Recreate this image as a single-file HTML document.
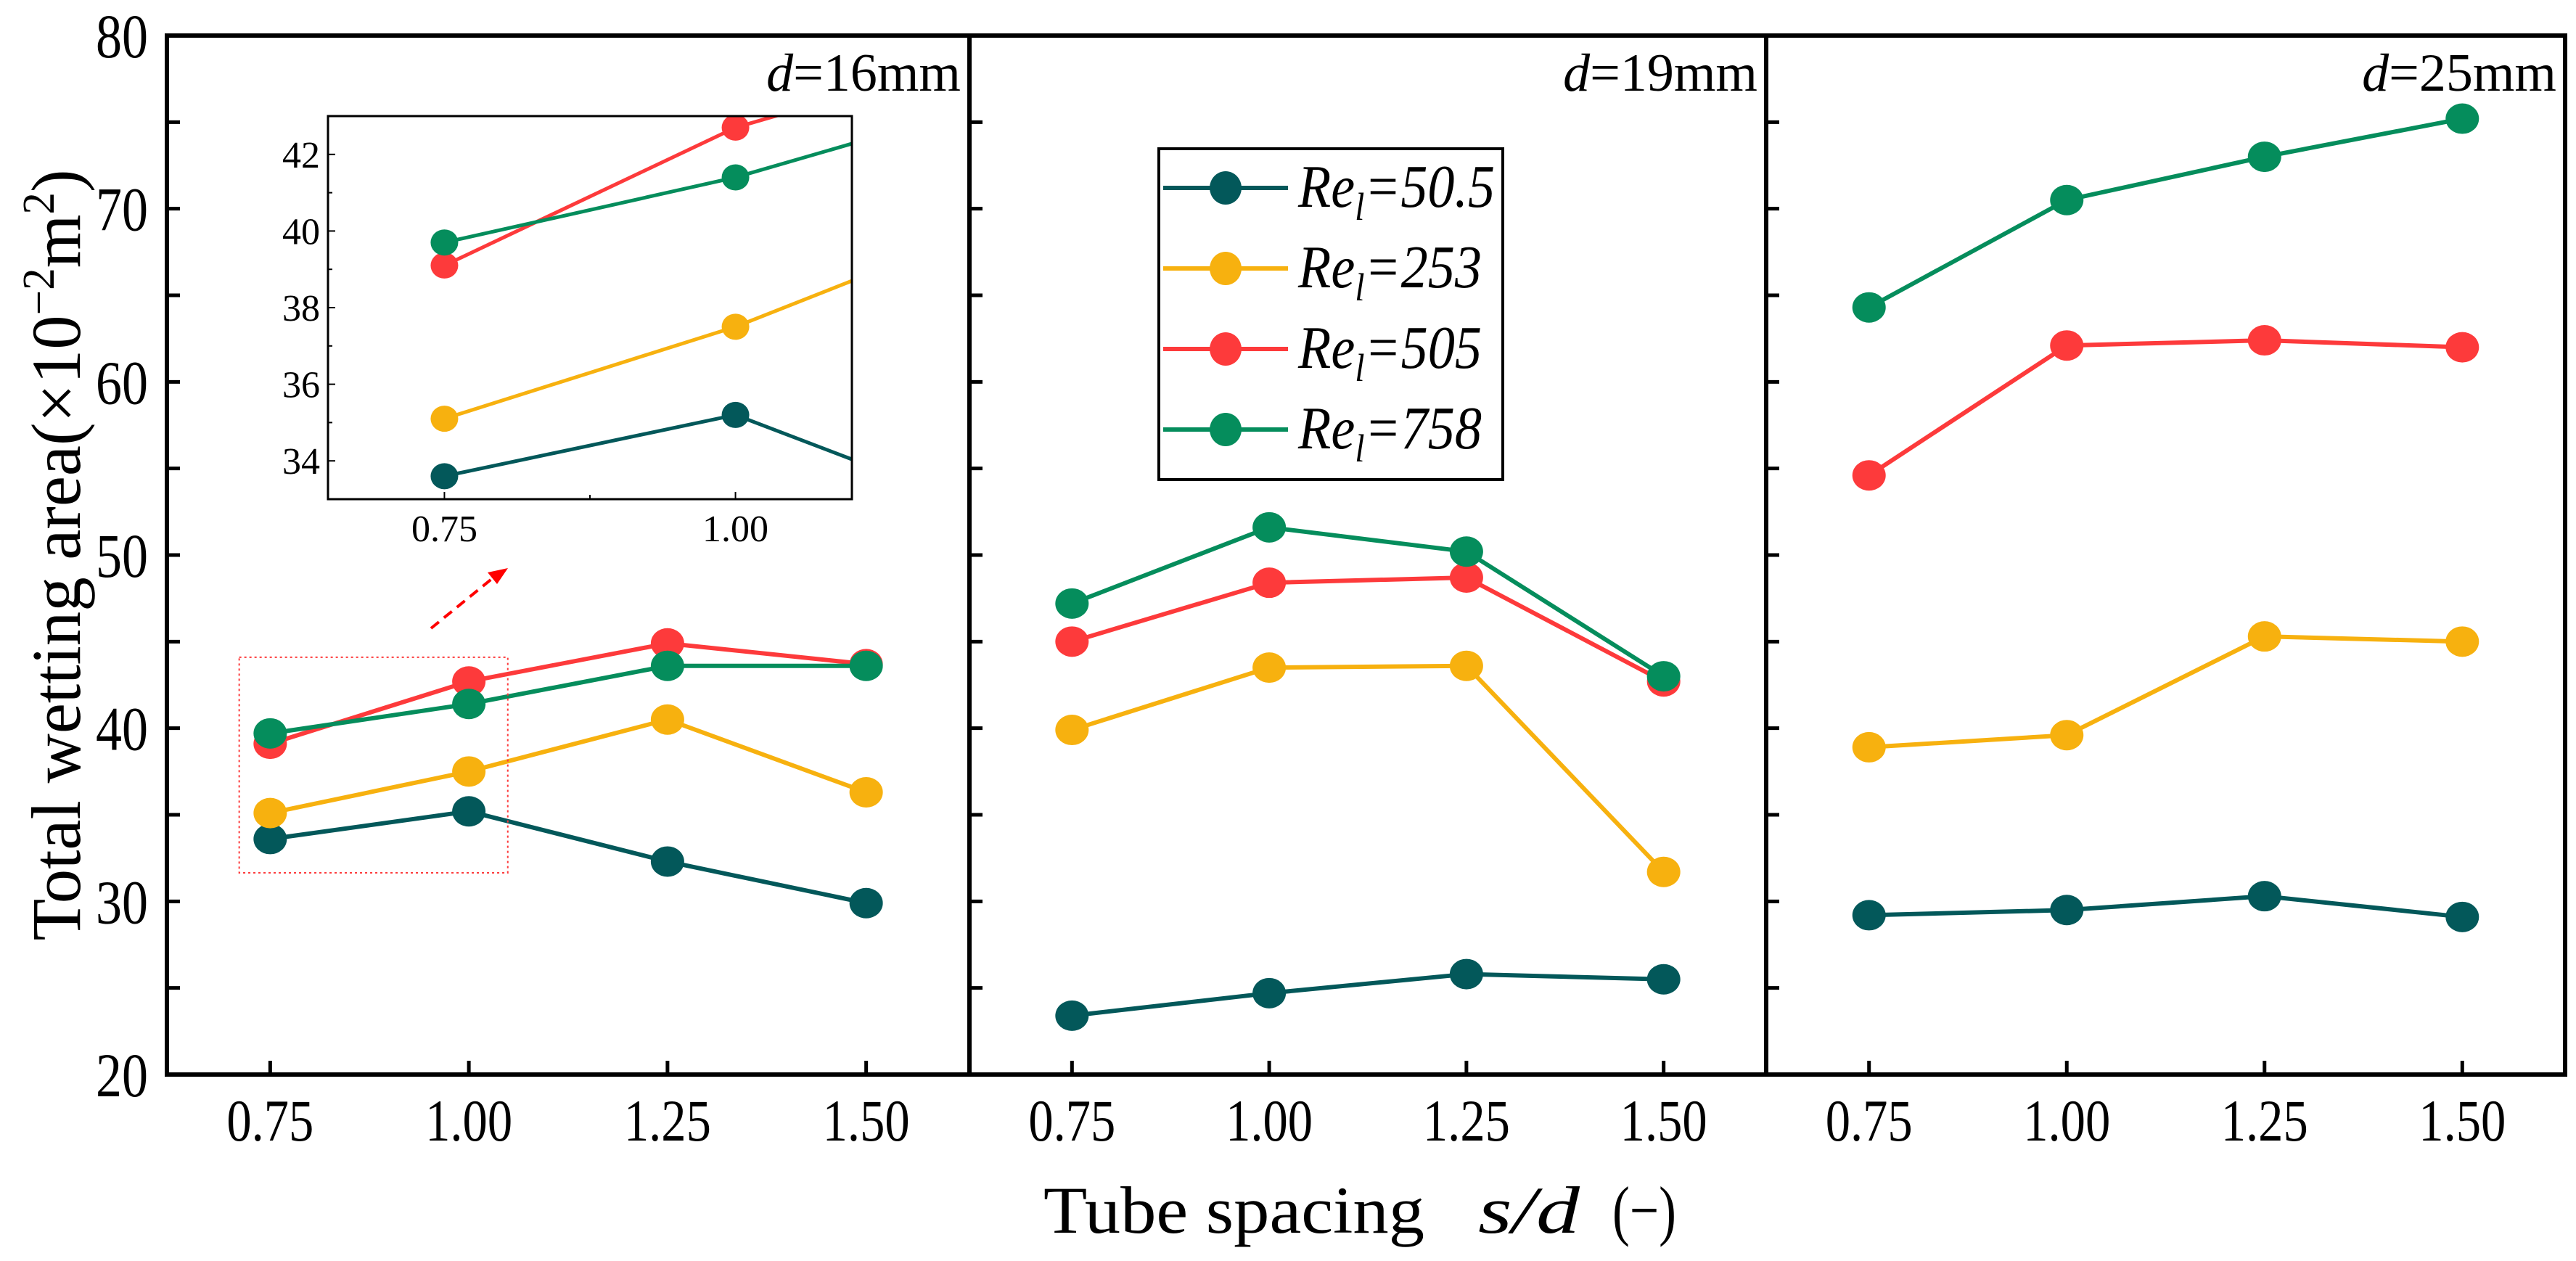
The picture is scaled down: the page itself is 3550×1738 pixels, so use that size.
<!DOCTYPE html>
<html><head><meta charset="utf-8"><style>
html,body{margin:0;padding:0;background:#fff}
svg{display:block}
text{font-family:"Liberation Serif",serif;fill:#000}
</style></head><body>
<svg id="chart" width="3550" height="1738" viewBox="0 0 3550 1738" xmlns="http://www.w3.org/2000/svg">
<defs><clipPath id="insetClip"><rect x="452" y="160" width="722" height="528"/></clipPath></defs>
<g id="plots"></g>
<text transform="translate(110,765) rotate(-90)" text-anchor="middle" font-size="96" textLength="1063" lengthAdjust="spacingAndGlyphs">Total wetting area(×10<tspan dy="-36" font-size="62">−2</tspan><tspan dy="36">m</tspan><tspan dy="-36" font-size="62">2</tspan><tspan dy="36">)</tspan></text>
<text x="1438" y="1699" font-size="92" textLength="525" lengthAdjust="spacingAndGlyphs">Tube spacing</text>
<text x="2037" y="1699" font-size="92" font-style="italic" textLength="140" lengthAdjust="spacingAndGlyphs">s/d</text>
<text x="2222" y="1699" font-size="92" textLength="88" lengthAdjust="spacingAndGlyphs">(−)</text>
</svg>
<script>
const categories=[0.75,1.00,1.25,1.50];
const seriesNames=["Re_l=50.5","Re_l=253","Re_l=505","Re_l=758"];
const legendLabels=["50.5","253","505","758"];
const panelTitles=["16mm","19mm","25mm"];
const d16_re50=[33.6,35.2,32.3,29.9];
const d16_re253=[35.1,37.5,40.5,36.3];
const d16_re505=[39.1,42.7,44.9,43.7];
const d16_re758=[39.7,41.4,43.6,43.6];
const d19_re50=[23.4,24.7,25.8,25.5];
const d19_re253=[39.9,43.5,43.6,31.7];
const d19_re505=[45.0,48.4,48.7,42.7];
const d19_re758=[47.2,51.6,50.2,43.0];
const d25_re50=[29.2,29.5,30.3,29.1];
const d25_re253=[38.9,39.6,45.3,45.0];
const d25_re505=[54.6,62.1,62.4,62.0];
const d25_re758=[64.3,70.5,73.0,75.2];
const yTicks=[20,30,40,50,60,70,80];
const xTickLabels=["0.75","1.00","1.25","1.50"];
const insetYTicks=[34,36,38,40,42];
const insetXTickLabels=["0.75","1.00"];

const colors=["#03585a","#f7b10f","#fd3a3b","#058d5c"];
const panels=[[d16_re50,d16_re253,d16_re505,d16_re758],[d19_re50,d19_re253,d19_re505,d19_re758],[d25_re50,d25_re253,d25_re505,d25_re758]];
const NS="http://www.w3.org/2000/svg";
const root=document.getElementById('plots');
const px=[230,1336,2434,3535], TOP=49, BOT=1481;
const yMin=20,yMax=80,xMin=0.62,xMax=1.63;
function sy(v){return BOT-(v-yMin)/(yMax-yMin)*(BOT-TOP);}
function sx(p,v){return px[p]+(v-xMin)/(xMax-xMin)*(px[p+1]-px[p]);}
function mk(tag,attrs,parent){const e=document.createElementNS(NS,tag);for(const k in attrs)e.setAttribute(k,attrs[k]);(parent||root).appendChild(e);return e;}

const frame=mk('rect',{x:px[0],y:TOP,width:px[3]-px[0],height:BOT-TOP,fill:'none',stroke:'#000','stroke-width':6});


for(let p=1;p<3;p++){
  const dv=mk('line',{x1:px[p],x2:px[p],y1:TOP,y2:BOT,stroke:'#000','stroke-width':6});
  
  
}
for(let p=0;p<3;p++){
  for(let v=20;v<=80;v+=5){
    const t=mk('line',{x1:px[p],x2:px[p]+18,y1:sy(v),y2:sy(v),stroke:'#000','stroke-width':5});
    
    
  }
  categories.forEach((c,i)=>{
    const t=mk('line',{x1:sx(p,c),x2:sx(p,c),y1:BOT,y2:BOT-19,stroke:'#000','stroke-width':5});
    
    
    const l=mk('text',{x:sx(p,c)-60,y:1572,'font-size':82,textLength:120,lengthAdjust:'spacingAndGlyphs'});
    l.textContent=xTickLabels[i];
    
    
  });
  const ttl=mk('text',{x:px[p+1]-12,y:125,'text-anchor':'end','font-size':74});
  ttl.innerHTML='<tspan font-style="italic">d</tspan>='+panelTitles[p];
  
  
  panels[p].forEach((vals,s)=>{
    const pts=vals.map((v,i)=>sx(p,categories[i])+','+sy(v)).join(' ');
    const ln=mk('polyline',{points:pts,fill:'none',stroke:colors[s],'stroke-width':6});
    
    
    vals.forEach((v,i)=>{
      const c=mk('ellipse',{cx:sx(p,categories[i]),cy:sy(v),rx:23,ry:21,fill:colors[s]});
      
      
    });
  });
}
yTicks.forEach(v=>{
  const l=mk('text',{x:132,y:sy(v)+30,'font-size':86,textLength:72,lengthAdjust:'spacingAndGlyphs'});
  l.textContent=v;
  
  
});

const zb=mk('rect',{x:sx(0,0.711),y:sy(44.1),width:sx(0,1.049)-sx(0,0.711),height:sy(31.65)-sy(44.1),fill:'none',stroke:'#fd3a3b','stroke-width':2,'stroke-dasharray':'3,4'});


const ar=mk('line',{x1:594,y1:866,x2:680,y2:796,stroke:'#f00','stroke-width':4,'stroke-dasharray':'14,9'});


const ah=mk('polygon',{points:'700,783 672,789 685,805',fill:'#f00'});



const IL=452,IR=1174,IT=160,IB=688,ixMin=0.65,ixMax=1.10,iyMin=33,iyMax=43;
function ix(v){return IL+(v-ixMin)/(ixMax-ixMin)*(IR-IL);}
function iy(v){return IB-(v-iyMin)/(iyMax-iyMin)*(IB-IT);}
const ibg=mk('rect',{x:IL,y:IT,width:IR-IL,height:IB-IT,fill:'#fff'});


const ig=mk('g',{'clip-path':'url(#insetClip)'});


panels[0].forEach((vals,s)=>{
  const pts=vals.map((v,i)=>ix(categories[i])+','+iy(v)).join(' ');
  const ln=mk('polyline',{points:pts,fill:'none',stroke:colors[s],'stroke-width':5},ig);
  
  
  vals.forEach((v,i)=>{
    const c=mk('ellipse',{cx:ix(categories[i]),cy:iy(v),rx:19,ry:18,fill:colors[s]},ig);
    
    
  });
});
const ifr=mk('rect',{x:IL,y:IT,width:IR-IL,height:IB-IT,fill:'none',stroke:'#000','stroke-width':3});


for(let v=34;v<=43;v++){
  const t=mk('line',{x1:IL,x2:IL+(v%2===0?10:6),y1:iy(v),y2:iy(v),stroke:'#000','stroke-width':2});
  
  
}
insetYTicks.forEach(v=>{
  const l=mk('text',{x:441,y:iy(v)+18,'text-anchor':'end','font-size':52});
  l.textContent=v;
  
  
});
[0.75,0.875,1.0].forEach(v=>{
  const t=mk('line',{x1:ix(v),x2:ix(v),y1:IB,y2:IB-(v===0.875?6:10),stroke:'#000','stroke-width':2});
  
  
});
insetXTickLabels.forEach((s,i)=>{
  const l=mk('text',{x:ix(categories[i]),y:746,'text-anchor':'middle','font-size':52});
  l.textContent=s;
  
  
});

const lg=mk('g',{});


const lb=mk('rect',{x:1597,y:205,width:474,height:456,fill:'#fff',stroke:'#000','stroke-width':4},lg);


const legendTextLen=[271,253,253,253];
legendLabels.forEach((lab,s)=>{
  const y=259+s*111;
  const g=mk('g',{},lg);
  
  
  mk('line',{x1:1603,x2:1775,y1:y,y2:y,stroke:colors[s],'stroke-width':6},g);
  mk('ellipse',{cx:1689,cy:y,rx:22,ry:23,fill:colors[s]},g);
  const t=mk('text',{x:1789,y:y+26,'font-size':84,'font-style':'italic',textLength:legendTextLen[s],lengthAdjust:'spacingAndGlyphs'},g);
  t.innerHTML='Re<tspan dy="18" font-size="54">l</tspan><tspan dy="-18">='+lab+'</tspan>';
});
</script>
</body></html>
